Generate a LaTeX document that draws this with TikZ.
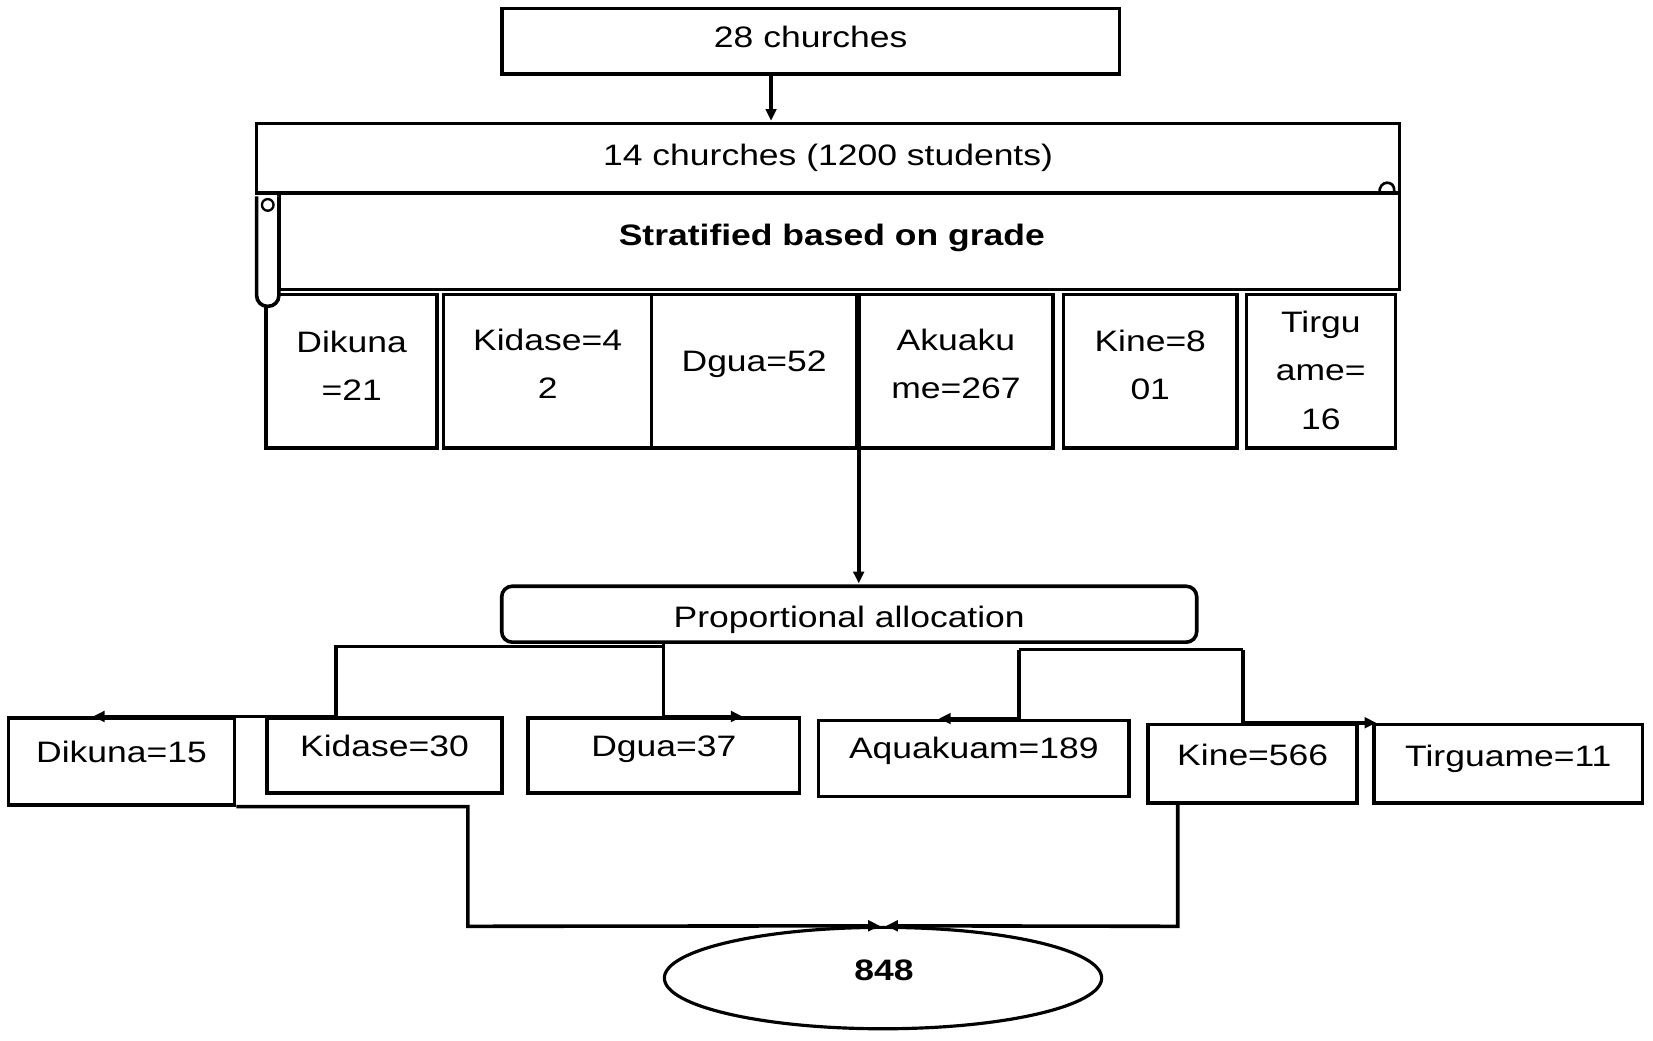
\documentclass[tikz,border=0pt]{standalone}
\usepackage{fontspec}
\setmainfont{Liberation Sans}[FakeStretch=1.2]
\usetikzlibrary{arrows.meta,shapes.geometric,fit,calc}
\begin{document}
\begin{tikzpicture}[x=1pt,y=-1pt,
  txt/.style={font=\fontsize{28}{46}\selectfont},
  bx/.style={draw,line width=3.4pt,inner sep=0pt,fill=white},
  tl/.style={txt,align=center,inner sep=0pt},
  ln/.style={line width=3.4pt},
  arr/.style={ln,-{Triangle[length=11pt,width=10pt]}},
]
\fill[white] (0,0) rectangle (1565,985);
\useasboundingbox (0,0) rectangle (1565,985);

% top
\node[bx,fit={(475,8)(1060,70)},label={[tl,yshift=4pt]center:28 churches}] (c28) {};
% scroll
\node[bx,fit={(243,117)(1325,183)},label={[tl,yshift=1pt]center:14 churches (1200 students)}] (c14) {};
\node[bx,fit={(264,183)(1325,274)},label={[tl,yshift=3pt,xshift=-7pt,font=\fontsize{28}{46}\selectfont\bfseries]center:Stratified based on grade}] (strat) {};

% strata
\node[bx,fit={(252,279)(414,424)},label={[tl,yshift=5pt]center:Dikuna\\=21}] (g1) {};
\node[bx,fit={(420,279)(617,424)},label={[tl,yshift=7pt]center:Kidase=4\\2}] (g2) {};
\node[bx,fit={(617,279)(811,424)},label={[tl,yshift=7pt]center:Dgua=52}] (g3) {};
\node[bx,fit={(813,279)(997,424)},label={[tl,yshift=7pt]center:Akuaku\\me=267}] (g4) {};
\node[bx,fit={(1007,279)(1171,424)},label={[tl,yshift=6pt]center:Kine=8\\01}] (g5) {};
\node[bx,fit={(1180,279)(1321,424)},label={[tl,yshift=1pt]center:Tirgu\\ame=\\16}] (g6) {};

% scroll tube and curls
\draw[ln,fill=white,rounded corners=10pt] (243,186) -- (243,290) -- (264,290) -- (264,186);
\draw[line width=2.2pt,fill=white] (253.5,194) circle[radius=5.5pt];
\draw[line width=2.5pt] (1306,183) .. controls (1305,170) and (1321,170) .. (1320,181);

% allocation
\node[bx,rounded corners=10pt,fit={(475,555)(1133,608)},label={[tl,yshift=-5pt]center:Proportional allocation}] (prop) {};

% samples
\node[bx,fit={(8,680)(222,762)},label={[tl,yshift=9pt]center:Dikuna=15}] (d15) {};
\node[bx,fit={(253,680)(475,751)},label={[tl,yshift=9pt]center:Kidase=30}] (k30) {};
\node[bx,fit={(500,680)(757,751)},label={[tl,yshift=6pt]center:Dgua=37}] (g37) {};
\node[bx,fit={(775,682)(1069,754)},label={[tl,yshift=7pt]center:Aquakuam=189}] (a189) {};
\node[bx,fit={(1087,686)(1285,760)},label={[tl,yshift=8pt]center:Kine=566}] (k566) {};
\node[bx,fit={(1301,686)(1555,760)},label={[tl,yshift=5pt]center:Tirguame=11}] (t11) {};

% total
\node[draw,ellipse,line width=3pt,minimum width=414pt,minimum height=96pt,inner sep=0pt,txt] (n848) at (836,926) {};
\node[tl,font=\fontsize{28}{46}\selectfont\bfseries] (t848) at (837,919) {848};

% connectors
\coordinate (t28) at (730,0);
\draw[arr,shorten >=1pt] (c28.south -| t28) -- (c14.north -| t28);
\coordinate (ak) at (813,0);
\draw[arr,shorten >=1pt] (g4.south -| ak) -- (prop.north -| ak);

\coordinate (bA) at (628,612);
\coordinate (bB) at (318,612);
\coordinate (tipD) at (703,0);
\coordinate (tip15) at (88,0);
\draw[arr] (prop.south -| bA) -- (bA |- g37.north) -- (tipD |- g37.north);
\draw[arr] (bA) -- (bB) -- (bB |- d15.north) -- (tip15 |- d15.north);

\coordinate (bC) at (965,615);
\coordinate (bD) at (1177,615);
\coordinate (tipA) at (889,0);
\coordinate (tipT) at (1303,0);
\draw[ln] (bC) -- (bD);
\draw[arr] (bC) -- (bC |- a189.north) -- (tipA |- a189.north);
\draw[arr] (bD) -- (bD |- k566.north) -- (tipT |- k566.north);

\coordinate (mL) at (443,877);
\coordinate (mR) at (1115,877);
\draw[arr] (d15.south east) -- (mL |- d15.south east) -- (mL) -- ([xshift=-3pt]n848.north);
\draw[arr] (k566.south west -| mR) -- (mR) -- ([xshift=3pt]n848.north);
\end{tikzpicture}
\end{document}
